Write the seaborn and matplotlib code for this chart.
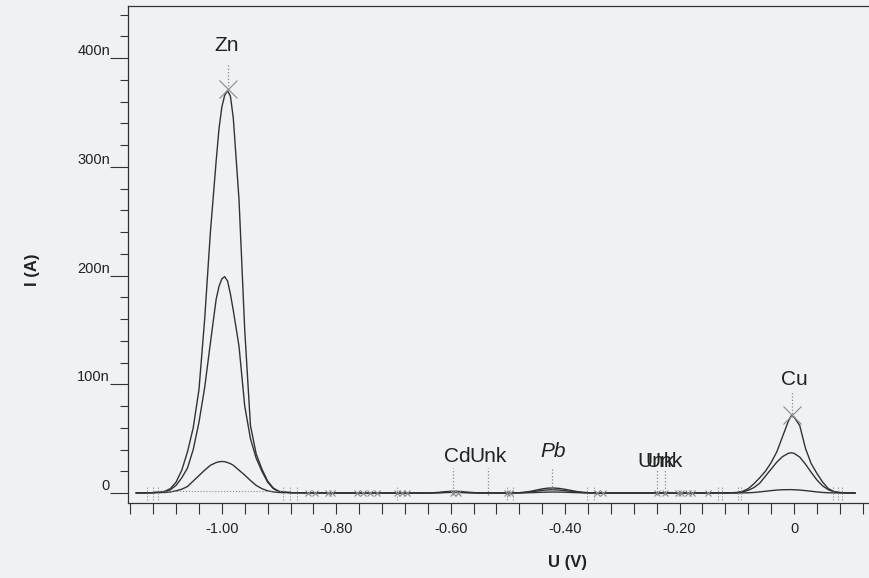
import matplotlib
matplotlib.use("Agg")
import matplotlib.pyplot as plt
import pandas as pd
import seaborn as sns
from matplotlib.ticker import FuncFormatter, MultipleLocator

# potential grid (V), grouped by peak region
voltage = [
    -1.15, -1.12, -1.10, -1.09, -1.08, -1.07, -1.06, -1.05, -1.04, -1.03,
    -1.02, -1.01, -1.005, -1.00, -0.995, -0.99, -0.985, -0.98, -0.97, -0.96,
    -0.95, -0.94, -0.93, -0.92, -0.91, -0.90, -0.88,
    -0.80, -0.70, -0.64,
    -0.62, -0.61, -0.60, -0.59, -0.58, -0.57, -0.55,
    -0.50,
    -0.48, -0.47, -0.46, -0.45, -0.44, -0.43, -0.42, -0.41, -0.40, -0.39,
    -0.38, -0.37, -0.36, -0.34,
    -0.25, -0.15,
    -0.12, -0.10, -0.09, -0.08, -0.07, -0.06, -0.05, -0.04, -0.03, -0.02,
    -0.01, -0.005, 0.00, 0.01, 0.02, 0.03, 0.04, 0.05, 0.06, 0.07,
    0.08, 0.09, 0.107,
]

# current (nA) for the three scans
scan_1 = [
    0, 0.3, 1.5, 4, 10, 21, 38, 60, 95, 160,
    240, 305, 335, 355, 366, 370, 365, 345, 270, 150,
    62, 36, 22, 11, 4.5, 1.5, 0.3,
    0, 0, 0,
    0.6, 1.2, 1.6, 1.6, 1.2, 0.7, 0.1,
    0,
    0.3, 0.8, 1.6, 2.7, 3.8, 4.5, 4.6, 4.2, 3.4, 2.4,
    1.4, 0.7, 0.3, 0,
    0, 0,
    0, 0.5, 1.5, 4, 8.5, 14, 20, 28, 38, 52,
    66, 71, 70, 62, 41, 27, 18, 10, 4, 1.3,
    0.5, 0.2, 0,
]
scan_2 = [
    0, 0.3, 1.2, 3, 7, 14, 23, 40, 65, 97,
    138, 178, 190, 197, 199, 195, 183, 168, 135, 80,
    50, 32, 20, 10, 4, 1.2, 0.3,
    0, 0, 0,
    0.35, 0.7, 1.0, 1.0, 0.7, 0.4, 0.05,
    0,
    0.2, 0.5, 1.0, 1.7, 2.4, 2.9, 3.0, 2.7, 2.2, 1.5,
    0.9, 0.45, 0.2, 0,
    0, 0,
    0, 0.3, 1, 2.5, 5, 9, 15.5, 22, 28.5, 33.5,
    36.5, 37, 36.5, 33, 26.5, 19, 12, 6.5, 3, 1,
    0.3, 0.1, 0,
]
scan_3 = [
    0, 0.2, 0.5, 1, 2, 3.5, 6, 11, 16, 21,
    25.5, 28, 28.7, 29, 28.8, 28, 27, 25.5, 21, 16.5,
    11.5, 7, 4, 2, 1, 0.5, 0.2,
    0, 0, 0,
    0.2, 0.35, 0.5, 0.5, 0.35, 0.2, 0,
    0,
    0.05, 0.15, 0.3, 0.5, 0.7, 0.85, 0.9, 0.85, 0.7, 0.5,
    0.3, 0.15, 0.05, 0,
    0, 0,
    0, 0, 0.1, 0.2, 0.5, 1, 1.6, 2.2, 2.7, 3.0,
    3.1, 3.1, 3.0, 2.7, 2.2, 1.6, 1.0, 0.5, 0.2, 0.1,
    0, 0, 0,
]

# peak labels (the two Unk near -0.23 V overlap in the original print)
peak_names = ["Zn", "Cd", "Unk", "Pb", "Unk", "Unk", "Cu"]
peak_label_v = [-0.991, -0.589, -0.534, -0.421, -0.241, -0.227, 0.0]
peak_label_i = [412, 34, 34, 38, 29, 29, 104]
peak_italic = [False, False, False, True, False, False, False]

# dotted peak position markers (V, from nA, to nA)
marker_v = [-0.990, -0.596, -0.535, -0.423, -0.240, -0.226, -0.003]
marker_lo = [374, -2, -2, 3, -2, -2, 70]
marker_hi = [396, 23, 23, 24, 21, 21, 93]

# peak tops
apex_v = [-0.990, -0.004]
apex_i = [372, 72]

# small crosses along the baseline
cross_v = [
    -0.850, -0.837, -0.815, -0.808, -0.764, -0.753, -0.741, -0.729,
    -0.694, -0.685, -0.677, -0.596, -0.587, -0.502, -0.497, -0.344,
    -0.334, -0.240, -0.226, -0.203, -0.198, -0.185, -0.178, -0.150,
]

# integration limits
limit_v = [
    -1.131, -1.121, -1.112, -0.893, -0.881, -0.869, -0.694, -0.502,
    -0.491, -0.362, -0.350, -0.133, -0.126, -0.098, -0.093, 0.068,
    0.077, 0.084,
]

BG = "#eef2f5"
INK = "#333333"
GREY = "#8a8a8a"


def n_format(v, pos):
    return "0" if abs(v) < 1e-9 else f"{int(round(v))}n"


def v_format(v, pos):
    return "0" if abs(v) < 1e-9 else f"{v:.2f}"


sns.set_style("ticks")
plt.rcParams["font.family"] = ["Liberation Sans", "DejaVu Sans"]

df = pd.concat(
    [
        pd.DataFrame({"U": voltage, "I": s, "scan": name})
        for name, s in (("1", scan_1), ("2", scan_2), ("3", scan_3))
    ],
    ignore_index=True,
)

fig = plt.figure(figsize=(8.69, 5.78), dpi=100, facecolor=BG)
ax = fig.add_axes([128 / 869, 75 / 578, 741 / 869, 497 / 578])
ax.set_facecolor(BG)

sns.lineplot(
    data=df, x="U", y="I", hue="scan", units="scan", estimator=None, sort=False,
    palette=[INK, INK, INK], linewidth=1.0, legend=False, ax=ax,
)

ax.hlines(2, -1.12, -0.88, colors=GREY, linestyles=":", linewidth=0.8)
ax.vlines(marker_v, marker_lo, marker_hi, colors=GREY, linestyles=":", linewidth=0.9)
ax.vlines(limit_v, -6, 5.5, colors=GREY, linestyles=":", linewidth=0.8)
ax.plot(cross_v, [0] * len(cross_v), "x", color=GREY, ms=5, mew=0.8)
ax.plot(apex_v, apex_i, "x", color=GREY, ms=13, mew=0.8)

for name, v, i, it in zip(peak_names, peak_label_v, peak_label_i, peak_italic):
    ax.text(v, i, name, ha="center", va="center", fontsize=15, color="#222222",
            style="italic" if it else "normal")

ax.set_xlim(-1.164, 0.131)
ax.set_ylim(-9.2, 448)
ax.xaxis.set_major_locator(MultipleLocator(0.2))
ax.xaxis.set_minor_locator(MultipleLocator(0.04))
ax.xaxis.set_major_formatter(FuncFormatter(v_format))
ax.yaxis.set_major_locator(MultipleLocator(100))
ax.yaxis.set_minor_locator(MultipleLocator(20))
ax.yaxis.set_major_formatter(FuncFormatter(n_format))

ax.tick_params(axis="x", which="both", length=8, width=0.8, color=INK,
               labelsize=10.5, labelcolor="#222222", pad=6)
ax.tick_params(axis="y", which="major", length=13, width=0.8, color=INK,
               labelsize=10.5, labelcolor="#222222", pad=0)
ax.tick_params(axis="y", which="minor", length=6, width=0.8, color=INK)
for lab in ax.get_yticklabels():
    lab.set_verticalalignment("bottom")

for side in ("left", "top", "bottom"):
    ax.spines[side].set_color(INK)
    ax.spines[side].set_linewidth(0.9)
ax.spines["right"].set_visible(False)

ax.set_xlabel("")
ax.set_ylabel("")
fig.text(32 / 869, 1 - 270 / 578, "I (A)", rotation=90, ha="center", va="center",
         fontsize=12, fontweight="bold", color="#222222")
fig.text(567 / 869, 1 - 563 / 578, "U (V)", ha="center", va="center",
         fontsize=12, fontweight="bold", color="#222222")

fig.savefig("out.png", dpi=100, facecolor=BG)
